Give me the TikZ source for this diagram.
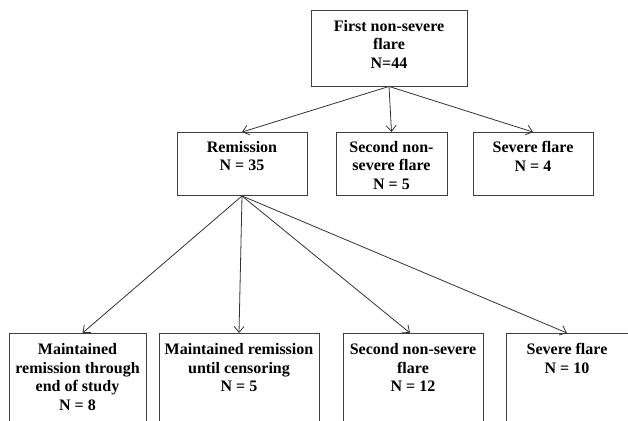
\documentclass[tikz,border=0pt]{standalone}
\usepackage{fontspec}
\setmainfont{Liberation Serif}
\usetikzlibrary{arrows.meta, positioning}
\tikzset{
  flow box/.style={
    draw=black!75, rectangle, line width=0.9pt,
    minimum height=63pt
  },
  box text/.style={
    anchor=north, align=center, inner sep=0pt,
    font=\bfseries\fontsize{16}{18.5}\selectfont
  },
  flow arrow/.style={
    -{Straight Barb[length=6pt, width=10pt]}, line width=0.8pt, draw=black!80
  },
}

\begin{document}
\begin{tikzpicture}[x=1pt, y=-1pt]

  \useasboundingbox (0,0) rectangle (628,420);

  % first row
  \node[flow box, minimum width=156pt, minimum height=76pt] (first) at (389,48) {};
  \node[box text, below=10.5pt of first.north] (firstT) {First non-severe\\flare\\N=44};

  % second row
  \node[flow box, minimum width=130pt] (remis) at (242,164) {};
  \node[box text, below=9pt of remis.north] (remisT) {Remission\\N = 35};

  \node[flow box, minimum width=111pt] (second) at (391.5,164) {};
  \node[box text, below=9pt of second.north] (secondT) {Second non-\\severe flare\\N = 5};

  \node[flow box, minimum width=120pt] (severe) at (533,164) {};
  \node[box text, below=9pt of severe.north] (severeT) {Severe flare\\N = 4};

  % third row (cut off at the bottom)
  \node[flow box, minimum width=137pt, minimum height=120pt, anchor=north] (maint) at (77.5,333) {};
  \node[box text, below=10.5pt of maint.north] (maintT) {Maintained\\remission through\\end of study\\N = 8};

  \node[flow box, minimum width=160pt, minimum height=120pt, anchor=north] (censor) at (239,333) {};
  \node[box text, below=10.5pt of censor.north] (censorT) {Maintained remission\\until censoring\\N = 5};

  \node[flow box, minimum width=140pt, minimum height=120pt, anchor=north] (flare2) at (413,333) {};
  \node[box text, below=10.5pt of flare2.north] (flare2T) {Second non-severe\\flare\\N = 12};

  \node[flow box, minimum width=122pt, minimum height=120pt, anchor=north] (flare3) at (567,333) {};
  \node[box text, below=10.5pt of flare3.north] (flare3T) {Severe flare\\N = 10};

  \draw[flow arrow] (first.south) -- (remis.north);
  \draw[flow arrow] (first.south) -- (second.north);
  \draw[flow arrow] (first.south) -- (severe.north);

  \draw[flow arrow] (remis.south) -- ([xshift=5pt]maint.north);
  \draw[flow arrow] (remis.south) -- (censor.north);
  \draw[flow arrow] (remis.south) -- ([xshift=-3pt]flare2.north);
  \draw[flow arrow] (remis.south) -- (flare3.north);

\end{tikzpicture}
\end{document}
